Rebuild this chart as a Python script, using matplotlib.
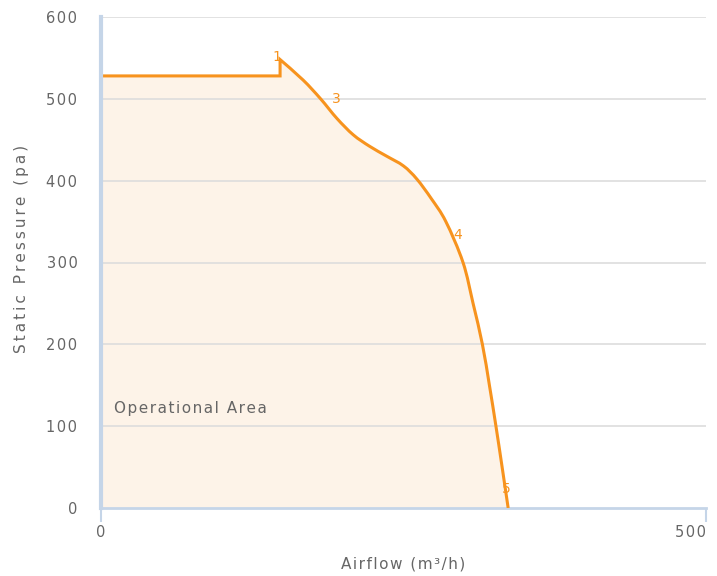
import matplotlib
matplotlib.use("Agg")
import matplotlib.pyplot as plt
from matplotlib.path import Path
from matplotlib.patches import PathPatch
import numpy as np

# Data
flat_x = [0, 148, 148]
flat_y = [528, 528, 548]
curve_x = [148, 167, 181.5, 195, 208.5, 222, 236, 250, 261, 273, 285, 299.2, 307.5, 315.2, 321, 326.4, 331.5, 336.5]
curve_y = [548, 523, 500, 476, 456, 442, 430, 418, 402, 378, 350, 300, 250, 200, 150, 100, 50, 0]
point_labels = ["1", "3", "4", "5"]
point_x = [148, 181.5, 290, 336.5]
point_y = [548, 500, 331, 0]
y_ticks = [0, 100, 200, 300, 400, 500, 600]
x_ticks = [0, 500]

orange = "#F7931E"
fill_c = "#FDF3E8"
grid_c = "#DDDDDD"
axis_blue = "#C5D5E8"
text_c = "#666666"

plt.rcParams['font.family'] = ['DejaVu Sans']


def spaced(s, sp="\u200a"):
    return sp.join(s)


fig = plt.figure(figsize=(7.17, 5.76), dpi=100)
ax = fig.add_axes([101/717, 68/576, 605/717, 491/576])
ax.set_xlim(0, 500)
ax.set_ylim(0, 600)


def smooth_path(px, py, start_verts):
    """Catmull-Rom through the read points, drawn as cubic Bezier segments."""
    P = np.column_stack([px, py]).astype(float)
    verts = list(start_verts)
    codes = [Path.MOVETO] + [Path.LINETO] * (len(start_verts) - 1)
    n = len(P)
    for i in range(n - 1):
        p0 = P[i - 1] if i > 0 else P[i]
        p1, p2 = P[i], P[i + 1]
        p3 = P[i + 2] if i + 2 < n else P[i + 1]
        c1 = p1 + (p2 - p0) / 6.0
        c2 = p2 - (p3 - p1) / 6.0
        verts += [tuple(c1), tuple(c2), tuple(p2)]
        codes += [Path.CURVE4] * 3
    return verts, codes


start = list(zip(flat_x, flat_y))
verts, codes = smooth_path(curve_x, curve_y, start)
line_path = Path(verts, codes)
fill_verts = verts + [(curve_x[-1], 0), (0, 0), (0, flat_y[0])]
fill_codes = codes + [Path.LINETO, Path.LINETO, Path.CLOSEPOLY]
ax.add_patch(PathPatch(Path(fill_verts, fill_codes), facecolor=fill_c, edgecolor='none', zorder=1))
ax.add_patch(PathPatch(line_path, facecolor='none', edgecolor=orange, lw=2.2, zorder=4,
                       joinstyle='miter', capstyle='butt'))

for t in y_ticks:
    if t > 0:
        ax.axhline(t, color=grid_c, lw=1.2, zorder=2)

# label offsets in points
offs = [(-2, 2), (11, 0), (4, 1.5), (-1, 14)]
for lab, x, y, (dx, dy) in zip(point_labels, point_x, point_y, offs):
    ax.annotate(lab, (x, y), xytext=(dx, dy), textcoords='offset points',
                color=orange, fontsize=10, ha='center', va='center', zorder=5)

ax.text(10.5, 121, spaced("Operational Area"), color=text_c, fontsize=11, ha='left', va='center', zorder=5)

for s in ['top', 'right']:
    ax.spines[s].set_visible(False)
ax.spines['left'].set_color(axis_blue)
ax.spines['left'].set_linewidth(3)
ax.spines['bottom'].set_color(axis_blue)
ax.spines['bottom'].set_linewidth(2)
ax.spines['left'].set_zorder(6)

ax.set_yticks(y_ticks)
ax.set_yticklabels([spaced(str(t)) for t in y_ticks])
ax.tick_params(axis='y', length=0, pad=17, labelcolor=text_c, labelsize=10.5)
ax.set_xticks(x_ticks)
ax.set_xticklabels([spaced(str(t)) for t in x_ticks])
ax.tick_params(axis='x', length=10, width=1.5, color=axis_blue, pad=2, labelcolor=text_c, labelsize=10.5)
xl = ax.get_xticklabels()
xl[-1].set_ha('right')

ax.set_xlabel(spaced("Airflow (m³/h)", "\u200a"), color=text_c, fontsize=11, labelpad=12)
ax.set_ylabel(spaced("Static Pressure (pa)", "\u2009"), color=text_c, fontsize=11)
ax.yaxis.set_label_coords(-0.119, 0.527)

fig.savefig("out.png", dpi=100, facecolor='white')
